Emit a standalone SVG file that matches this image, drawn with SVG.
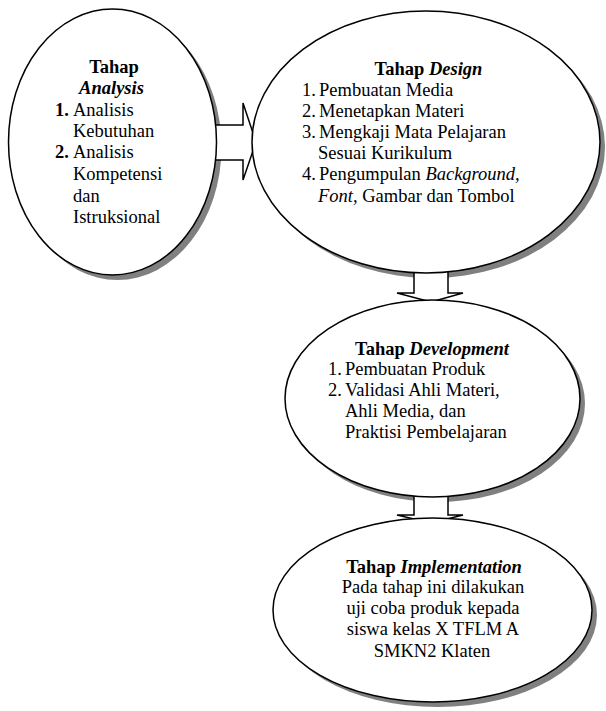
<svg xmlns="http://www.w3.org/2000/svg" width="606" height="711" viewBox="0 0 606 711">
<style>
text{font-family:"Liberation Serif","Times New Roman",serif;font-size:18.5px;fill:#000}
.b{font-weight:bold}
.i{font-style:italic}
.c{text-anchor:middle}
.sh{fill:#808080;stroke:none}
.el{fill:#fff;stroke:#000;stroke-width:1.5}
.ar{fill:#fff;stroke:#000;stroke-width:1.5;stroke-linejoin:miter}
</style>
<rect width="606" height="711" fill="#fff"/>
<g id="shadows">
<ellipse class="sh" cx="117.5" cy="147" rx="104" ry="133"/>
<ellipse class="sh" cx="431" cy="147" rx="174" ry="131"/>
<ellipse class="sh" cx="437.5" cy="403.5" rx="147.5" ry="98.5"/>
<ellipse class="sh" cx="437.5" cy="615" rx="159.5" ry="92"/>
</g>
<g id="connectors">
<polygon class="ar" points="205,125 243,125 243,103 256,142 243,180 243,160 205,160"/>
<polygon class="ar" points="414,265 448,265 448,293 463,293 431,302 397,293 414,293"/>
<polygon class="ar" points="414,490 448,490 448,515 463,515 431,523 397,515 414,515"/>
</g>
<g id="analysis">
<ellipse class="el" cx="112.5" cy="142" rx="104" ry="133"/>
<text class="b c" x="114" y="73">Tahap</text>
<text class="b i c" x="111.5" y="94">Analysis</text>
<text x="55" y="116"><tspan class="b">1.</tspan><tspan x="73">Analisis</tspan></text>
<text x="73" y="137">Kebutuhan</text>
<text x="55" y="158"><tspan class="b">2.</tspan><tspan x="73">Analisis</tspan></text>
<text x="73" y="180">Kompetensi</text>
<text x="73" y="202">dan</text>
<text x="73" y="223">Istruksional</text>
</g>
<g id="design">
<ellipse class="el" cx="426" cy="142" rx="174" ry="131"/>
<text class="c" x="428.5" y="75"><tspan class="b">Tahap </tspan><tspan class="b i">Design</tspan></text>
<text x="302" y="96">1.<tspan x="319">Pembuatan Media</tspan></text>
<text x="302" y="117">2.<tspan x="319">Menetapkan Materi</tspan></text>
<text x="302" y="138">3.<tspan x="319">Mengkaji Mata Pelajaran</tspan></text>
<text x="318" y="159">Sesuai Kurikulum</text>
<text x="302" y="180">4.<tspan x="319">Pengumpulan </tspan><tspan class="i">Background,</tspan></text>
<text x="318" y="202"><tspan class="i">Font,</tspan> Gambar dan Tombol</text>
</g>
<g id="development">
<ellipse class="el" cx="432.5" cy="398.5" rx="147.5" ry="98.5"/>
<text class="c" x="432" y="355"><tspan class="b">Tahap </tspan><tspan class="b i">Development</tspan></text>
<text x="328" y="375">1.<tspan x="345">Pembuatan Produk</tspan></text>
<text x="328" y="396">2.<tspan x="345">Validasi Ahli Materi,</tspan></text>
<text x="345" y="417">Ahli Media, dan</text>
<text x="345" y="438">Praktisi Pembelajaran</text>
</g>
<g id="implementation">
<ellipse class="el" cx="432.5" cy="610" rx="159.5" ry="92"/>
<text class="c" x="434" y="573"><tspan class="b">Tahap </tspan><tspan class="b i">Implementation</tspan></text>
<text class="c" x="433" y="593">Pada tahap ini dilakukan</text>
<text class="c" x="433" y="614">uji coba produk kepada</text>
<text class="c" x="433" y="635">siswa kelas X TFLM A</text>
<text class="c" x="432" y="657">SMKN2 Klaten</text>
</g>
</svg>
